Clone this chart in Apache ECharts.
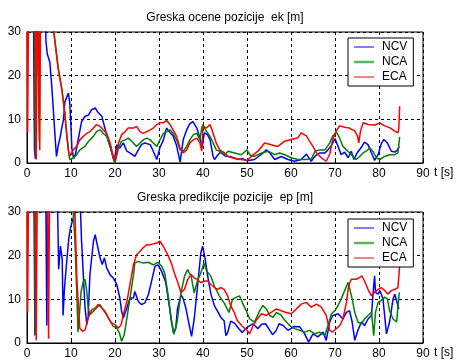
<!DOCTYPE html>
<html><head><meta charset="utf-8">
<script src="https://cdn.jsdelivr.net/npm/echarts@6/dist/echarts.min.js"></script>
<style>html,body{margin:0;padding:0;background:#fff}#c{width:456px;height:360px}</style>
</head><body><div id="c"></div>
<script>
// ---- data (t [s], value [m]); values above 30 leave the plot and are clipped ----
var seriesNames = ['NCV', 'NCA', 'ECA'];
var xTicks = [0, 10, 20, 30, 40, 50, 60, 70, 80, 90];
var yTicks = [0, 10, 20, 30];
var titleTop = 'Greska ocene pozicije  ek [m]';
var titleBottom = 'Greska predikcije pozicije  ep [m]';

var ekNCV = [[0,45],[1.4,45],[1.7,3],[1.9,1],[2.1,45],[2.4,45],[2.6,20],[2.8,45],[4.0,45],[4.3,28],[4.6,25],[5.2,23],[5.6,18],[6.0,12],[6.4,5.7],[6.7,1.5],[7.1,4],[7.5,5.7],[7.9,8],[8.3,10],[8.6,14],[9.0,15],[9.4,16],[9.7,14],[10.0,8],[10.2,3.4],[10.6,1],[11.0,2],[11.7,5.7],[12.4,9.5],[13.2,10.7],[14.0,11],[14.7,12.2],[15.5,12.6],[16.2,11.5],[17.0,10.7],[17.7,8],[18.5,5],[19.2,2.7],[19.8,0.4],[20.4,4.2],[21.1,3.4],[21.9,4.6],[22.7,2.7],[23.4,2.3],[24.5,1.5],[25.3,3],[26.0,4.2],[26.8,4.6],[28.0,4.2],[28.7,2.7],[29.5,0.8],[30.2,3.5],[31.0,5.3],[31.7,8],[32.5,7],[33.2,6.2],[34.0,4],[34.8,0.2],[35.5,5.3],[36.3,7.6],[37.0,9],[37.7,9.5],[38.6,8],[39.3,5.7],[39.8,3.5],[40.3,6.9],[41.0,6.5],[41.6,5.3],[42.3,1.5],[42.6,0.8],[43.2,1.6],[44.0,2.5],[45.0,1.6],[46.0,1.5],[47.0,1.2],[48.0,0.8],[49.0,1],[50.0,0.5],[51.7,0.8],[53.3,2],[54.4,3],[55.2,2.3],[56.3,0.8],[57.8,1.5],[59.3,0.8],[60.8,0.4],[62.3,0.8],[63.5,2],[64.6,0.4],[65.4,1.5],[66.5,2.3],[67.7,2.3],[68.4,3],[69.3,4.2],[70.0,5.6],[70.7,3.8],[71.4,1.9],[72.2,2.5],[73.0,1.2],[73.7,2.7],[74.3,0.8],[75.0,2.3],[76.0,3.6],[76.7,4.8],[77.5,4.2],[78.3,2.3],[79.0,0.6],[79.8,1.9],[80.5,4.4],[81.1,5.4],[81.9,4.6],[82.8,2.7],[83.6,2.5],[84.2,3],[84.6,3.8]];
var ekNCA = [[0,45],[1.6,45],[1.9,2],[2.2,45],[2.5,45],[2.8,5],[3.0,45],[6.0,45],[6.1,30],[7.1,21.6],[7.9,17],[8.6,11.4],[9.0,6.8],[9.4,3],[9.7,0.8],[10.5,1.1],[11.3,1.9],[12.0,3],[13.2,3.8],[14.0,5],[15.1,6.1],[15.8,7.2],[16.6,7.6],[17.3,6.8],[18.1,6.1],[18.9,3.8],[19.6,1.1],[20.0,0],[20.8,3.4],[21.5,5],[22.3,5.3],[23.0,5.7],[23.8,5],[24.9,3.8],[25.7,4.6],[26.4,5.3],[27.2,5.7],[28.0,5.3],[28.7,4.6],[29.5,3.8],[30.2,5.3],[31.0,6.8],[31.7,7.2],[32.5,7.6],[33.2,6.8],[34.0,5.3],[34.8,3],[35.5,2.7],[36.3,3.8],[37.0,5.3],[37.8,6.5],[38.6,6.8],[39.3,5.3],[39.7,8],[40.0,8.8],[40.8,7.2],[41.6,6.1],[42.3,4.6],[43.0,3],[43.8,2.7],[44.9,1.9],[45.7,2.7],[47.2,2.3],[48.7,1.9],[50.0,3],[50.6,1.9],[51.7,1.5],[53.3,2.3],[54.8,2.7],[56.3,1.9],[57.4,2.3],[58.6,1.9],[60.0,1.2],[61.6,0.8],[63.1,0.8],[64.6,0.9],[65.5,2.7],[66.5,3],[67.7,3],[68.8,4.6],[69.5,6.2],[70.3,7.1],[71.0,5.8],[71.8,3.8],[72.6,3],[73.3,2.3],[74.1,1.5],[74.8,0.8],[75.6,1.5],[76.4,2.3],[77.1,2.7],[77.9,3.5],[78.6,2.7],[79.4,1.2],[80.2,0.8],[81.3,1.5],[82.4,1.9],[83.6,1.9],[84.3,2.3],[84.7,6]];
var ekECA = [[0,45],[0.15,7],[0.4,45],[1.8,45],[2.1,0.8],[2.4,45],[2.7,45],[2.9,3],[3.1,45],[6.0,45],[6.1,30],[7.1,21.6],[7.9,17],[8.6,11.4],[9.0,6.8],[9.4,3],[9.7,1.5],[10.5,3],[11.3,3.8],[12.0,5.3],[12.8,6.1],[13.6,6.8],[14.3,7.2],[15.1,8],[15.8,8.8],[16.6,8.4],[17.3,7.6],[18.1,6.8],[18.9,4.6],[19.6,1.5],[20.0,0.4],[20.8,4.6],[21.5,6.5],[22.3,7.2],[23.0,8],[24.2,8],[24.9,8.4],[25.7,7.2],[26.4,6.8],[27.2,7.2],[28.0,7.6],[28.7,8],[29.5,8.8],[30.2,9.2],[31.0,9.2],[31.7,9.8],[32.5,8.8],[33.2,7.6],[34.0,6.1],[34.8,3.4],[35.5,2.3],[36.3,3],[37.0,4.6],[37.8,5.3],[38.6,5.7],[39.3,4.6],[39.7,2.7],[40.0,8.4],[40.8,8],[41.6,8.8],[42.3,6.8],[43.0,4.6],[43.8,3],[44.9,2.3],[45.7,1.5],[47.0,1.1],[48.6,0.8],[50.0,0.6],[51.0,1.5],[52.5,2.7],[54.0,4.6],[55.5,4.2],[57.0,3.8],[58.6,5],[60.0,5.4],[61.6,5.8],[62.3,6.9],[63.5,6.2],[64.2,5],[65.0,3.8],[65.8,2.3],[66.9,1.2],[68.0,0.4],[68.8,2],[69.5,5.4],[70.3,7.3],[71.0,8.5],[72.2,8.2],[73.3,8],[74.5,7.3],[75.1,6.2],[75.4,4.6],[75.8,7.3],[76.4,9.2],[77.5,8.8],[79.0,8.7],[80.2,9.2],[81.3,8.5],[82.4,8.1],[83.6,7.3],[84.3,6.9],[84.5,7.8],[84.7,13]];

var epNCV = [[0,45],[1.5,45],[1.8,1.7],[2.1,45],[4.2,45],[4.5,4],[4.8,45],[6.7,45],[7.2,16.9],[7.6,22.2],[8.0,19.2],[8.2,6.3],[8.5,12.3],[9.0,18.4],[9.5,24],[9.9,26.4],[10.3,27.9],[10.9,30],[11.2,35],[12.0,35],[12.4,23.3],[12.8,15.6],[13.2,8],[13.6,4.2],[13.9,6],[14.3,15.6],[15.1,23.3],[15.5,24.8],[15.8,23.3],[16.6,19.5],[17.1,18],[17.6,19.5],[18.1,17.2],[18.9,15.6],[19.6,14.9],[20.4,13.4],[21.1,10.3],[21.5,7.3],[21.9,5.7],[22.7,8],[23.4,10.3],[24.2,10.3],[24.5,11.8],[25.3,9.5],[26.0,8.8],[26.8,9.2],[27.6,11.1],[28.3,14.1],[29.1,17.6],[29.8,17.9],[30.6,16.4],[31.5,14],[32.2,9.5],[32.8,5],[33.3,2.3],[33.8,3.3],[34.2,7.8],[35.0,11],[35.4,10.4],[36.1,8],[36.9,4],[37.4,1.5],[38.0,5.5],[38.8,13.4],[39.5,20.6],[39.9,22.2],[40.4,19.8],[41.0,15.7],[41.8,11.2],[42.6,8.5],[43.3,7.3],[44.1,5.8],[44.8,5.1],[45.2,1.7],[45.6,2.4],[46.3,5],[47.2,4.5],[48.2,3.2],[48.9,2.4],[50.0,3.6],[51.3,4.4],[52.5,3.3],[53.3,4.3],[54.2,4.4],[55.0,3.2],[55.8,1.9],[56.6,2.8],[57.3,4.4],[58.2,4],[59.3,2.9],[60.8,3.8],[62.0,3.7],[63.1,2.1],[64.0,0.2],[65.0,2.1],[66.1,1.4],[67.3,2.5],[68.0,0.6],[68.8,4.8],[69.5,6.3],[70.7,6.7],[71.8,5.5],[72.6,7],[73.3,7.4],[73.9,4.8],[74.5,0.6],[75.2,2.9],[76.0,4.8],[76.7,4],[77.5,5.5],[78.3,6.3],[78.6,10.8],[79.0,15.4],[79.2,11.6],[79.8,11.2],[80.2,12],[80.9,10.1],[81.7,2.1],[82.4,4.8],[83.2,10.1],[83.6,11.2],[84.0,10.8],[84.3,8.6],[84.5,7.8]];
var epNCA = [[0,45],[1.6,45],[1.9,2],[2.2,45],[10.2,45],[10.5,30],[10.9,23.3],[11.3,11.8],[11.6,2.5],[12.3,11.8],[12.8,14.1],[13.2,14.6],[13.6,11.8],[13.9,8],[14.3,6.5],[15.1,7.3],[15.8,8],[16.6,8.8],[17.3,7.6],[18.1,6.5],[18.9,5],[19.6,3.8],[20.4,3.4],[21.0,2.3],[21.5,0.4],[22.1,1.9],[22.7,5.7],[23.4,10.3],[24.2,15.6],[24.5,18.3],[25.3,18.7],[26.4,18.3],[27.6,18.5],[28.7,17.9],[29.8,18.5],[30.6,17.6],[31.3,16],[32.0,11.5],[32.8,5.5],[33.4,2],[34.1,4.7],[35.0,11.5],[35.8,15.3],[36.5,16.8],[37.3,15.3],[38.0,11.5],[38.8,14.5],[39.5,16],[40.2,18.3],[40.9,16.4],[41.8,15.3],[42.6,13],[43.7,10.8],[44.8,9.2],[45.9,7],[46.7,10],[47.4,10.4],[48.3,10.8],[49.1,8.9],[50.0,7],[50.6,5.5],[51.7,4.8],[52.9,7.4],[53.6,8.6],[54.4,7.8],[55.2,6.3],[55.9,5.9],[56.7,7],[57.8,6.3],[58.6,5.2],[59.7,4],[60.8,3.3],[62.0,2.9],[63.1,2.5],[64.2,2.9],[65.4,2.1],[66.5,2.5],[67.7,1.7],[68.4,4],[69.2,6.7],[70.0,7.4],[70.7,8.6],[71.4,10.1],[72.2,12],[73.0,13.9],[73.3,14.2],[73.9,10.1],[74.5,7],[75.2,4.8],[76.0,4.4],[76.7,5.5],[77.5,6.3],[78.3,7],[78.8,1.7],[79.2,7],[79.8,9.3],[80.5,9.7],[81.3,10.5],[81.9,10.1],[82.4,7.4],[83.2,5.5],[84.0,4.8],[84.3,5.2],[84.6,11.6]];
var epECA = [[0,45],[0.15,7],[0.4,45],[1.8,45],[2.1,0.6],[2.4,45],[4.6,45],[4.9,1],[5.2,45],[10.8,45],[10.9,30],[11.3,15.6],[11.7,8],[12.0,3.4],[12.6,2.7],[13.2,3],[13.9,5.7],[14.7,7.6],[15.5,8],[16.2,8.8],[17.0,8],[17.7,7.3],[18.5,5.7],[19.2,4.6],[20.0,4.2],[20.8,3.4],[21.4,4.2],[21.9,6.5],[22.7,9.5],[23.4,13.4],[24.2,17.9],[24.9,20.2],[25.7,21],[26.4,21.8],[27.2,22.5],[28.0,22.5],[28.7,22.7],[29.5,22.9],[30.2,23.3],[31.0,22.1],[32.0,20.2],[32.8,18.3],[33.5,16],[34.3,13.8],[35.0,11.5],[35.8,12.3],[36.5,14.5],[37.3,15.7],[38.0,14.9],[38.8,14.5],[39.5,13.8],[40.3,14.2],[41.0,14.2],[41.8,13.4],[42.6,12.7],[43.3,12.3],[44.1,12.7],[44.8,12.3],[45.6,10.8],[46.3,8.5],[47.1,7],[47.8,5.1],[48.9,3.9],[50.1,2.8],[50.6,2.1],[51.4,4],[52.1,5.2],[53.3,6.7],[54.4,6.3],[55.5,7],[56.7,7.8],[57.8,7.4],[58.9,7],[60.1,6.7],[61.2,7.8],[62.3,8.9],[63.5,9.3],[64.6,8.2],[65.8,8.9],[66.9,8.2],[68.0,6.3],[68.8,2.9],[69.5,2.5],[70.3,3.3],[71.1,4],[71.8,5.5],[72.6,9.3],[73.1,13.1],[73.7,14.6],[74.8,14.6],[75.6,15],[76.1,15.4],[76.7,14.2],[77.5,12.3],[78.3,10.8],[79.0,11.6],[79.8,12.3],[80.5,12.7],[81.3,12],[82.0,11.2],[82.8,12],[83.6,12.3],[84.3,12.7],[84.5,13],[84.7,17.7]];

// ---- chart ----
var colors = ['#0000ff', '#008000', '#ff0000'];
var legendColors = ['#0000ff', '#55b855', '#ff0000'];
var legendIcons = ['path://M0,0H20V1H0Z', 'path://M0,0H20V2.5H0Z', 'path://M0,0H20V1H0Z'];
var FONT = 'Liberation Sans, Arial, sans-serif';
var chart = echarts.init(document.getElementById('c'), null, {renderer: 'canvas'});

function xAxis(gi) {
  return {
    type: 'value', gridIndex: gi, min: xTicks[0], max: xTicks[xTicks.length - 1], interval: xTicks[1] - xTicks[0],
    name: 't [s]', nameLocation: 'end', nameGap: 11,
    nameTextStyle: {color: '#000', fontSize: 12, fontFamily: FONT, verticalAlign: 'top', padding: [4, 0, 0, 0]},
    axisLine: {show: true, onZero: false, lineStyle: {color: '#000', width: 1}},
    axisTick: {show: true, inside: true, length: 4, lineStyle: {color: '#000'}},
    axisLabel: {color: '#000', fontSize: 12, fontFamily: FONT, margin: 5},
    splitLine: {show: true, lineStyle: {color: '#000', type: [3, 3], width: 1}}
  };
}
function yAxis(gi) {
  return {
    type: 'value', gridIndex: gi, min: yTicks[0], max: yTicks[yTicks.length - 1], interval: yTicks[1] - yTicks[0],
    axisLine: {show: true, lineStyle: {color: '#000', width: 1}},
    axisTick: {show: true, inside: true, length: 4, lineStyle: {color: '#000'}},
    axisLabel: {color: '#000', fontSize: 12, fontFamily: FONT, margin: 6},
    splitLine: {show: true, lineStyle: {color: '#000', type: [3, 3], width: 1}}
  };
}
function line(name, data, ci, gi) {
  return {
    type: 'line', name: name, data: data, xAxisIndex: gi, yAxisIndex: gi,
    symbol: 'none', clip: true, animation: false,
    lineStyle: {color: colors[ci], width: 1.5}, itemStyle: {color: colors[ci]}
  };
}
function legend(top) {
  return {
    left: 348, top: top, orient: 'vertical',
    data: seriesNames.map(function (n, i) {
      return {name: n, icon: legendIcons[i], itemStyle: {color: legendColors[i]}};
    }),
    symbolKeepAspect: true,
    backgroundColor: '#fff', borderColor: '#000', borderWidth: 1,
    padding: [3, 6, 3, 6], itemGap: 3, itemWidth: 20, itemHeight: 12,
    textStyle: {color: '#000', fontSize: 12, fontFamily: FONT, lineHeight: 12, padding: [0, 0, 0, 3]}
  };
}

var option = {
  animation: false,
  backgroundColor: '#fff',
  title: [
    {text: titleTop, left: 225, top: 12, textAlign: 'center', padding: 0,
     textStyle: {color: '#000', fontSize: 12, fontWeight: 'normal', fontFamily: FONT}},
    {text: titleBottom, left: 225, top: 192, textAlign: 'center', padding: 0,
     textStyle: {color: '#000', fontSize: 12, fontWeight: 'normal', fontFamily: FONT}}
  ],
  grid: [
    {left: 27, width: 396, top: 32, height: 131, show: true, borderColor: '#000', borderWidth: 1, backgroundColor: '#fff'},
    {left: 27, width: 396, top: 212, height: 133, show: true, borderColor: '#000', borderWidth: 1, backgroundColor: '#fff'}
  ],
  xAxis: [xAxis(0), xAxis(1)],
  yAxis: [yAxis(0), yAxis(1)],
  legend: [legend(38), legend(219)],
  series: [
    line('NCV', ekNCV, 0, 0), line('NCA', ekNCA, 1, 0), line('ECA', ekECA, 2, 0),
    line('NCV', epNCV, 0, 1), line('NCA', epNCA, 1, 1), line('ECA', epECA, 2, 1)
  ]
};
chart.setOption(option);
</script>
</body></html>
